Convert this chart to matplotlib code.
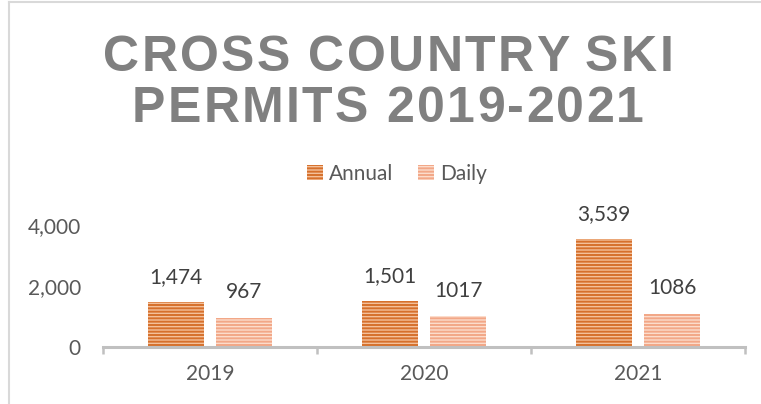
import matplotlib
matplotlib.use('Agg')
import matplotlib.pyplot as plt
import numpy as np
from matplotlib.lines import Line2D

# data
years = ['2019', '2020', '2021']
annual = [1474, 1501, 3539]
daily = [967, 1017, 1086]
yticks = [0, 2000, 4000]

W, H = 761, 404
plt.rcParams['font.family'] = ['Lato', 'DejaVu Sans']
plt.rcParams['hatch.linewidth'] = 1.4

fig = plt.figure(figsize=(W / 100, H / 100), dpi=100)
ax = fig.add_axes([103 / W, 1 - 347 / H, (745 - 103) / W, (347 - 225) / H])

x = np.arange(len(years))
off, bw = 0.159, 0.262
b1 = ax.bar(x - off, annual, bw, color='#f4c09a', edgecolor='#d6702c',
            linewidth=0, hatch='-----', label='Annual')
b2 = ax.bar(x + off, daily, bw, color='#fcdccb', edgecolor='#f2a787',
            linewidth=0, hatch='-----', label='Daily')

for xi, v in zip(x - off, annual):
    ax.annotate(f'{v:,}', (xi, v), xytext=(0, 14), textcoords='offset points',
                ha='center', va='baseline', fontsize=15, color='#404040',
                annotation_clip=False)
for xi, v in zip(x + off, daily):
    ax.annotate(str(v), (xi, v), xytext=(0, 14), textcoords='offset points',
                ha='center', va='baseline', fontsize=15, color='#404040',
                annotation_clip=False)

ax.set_xlim(-0.5, 2.5)
ax.set_ylim(0, 4000)
ax.set_xticks(x, years)
ax.set_xticks([-0.5, 0.5, 1.5, 2.5], minor=True)
ax.set_yticks(yticks, [f'{t:,}' for t in yticks])
ax.tick_params(axis='x', which='major', length=0, pad=12, labelsize=15,
               labelcolor='#595959')
ax.tick_params(axis='x', which='minor', length=5, width=1.8, color='#c0c0c0')
ax.tick_params(axis='y', length=0, pad=16, labelsize=15, labelcolor='#595959')
for s in ['top', 'right', 'left']:
    ax.spines[s].set_visible(False)
ax.spines['bottom'].set_color('#c0c0c0')
ax.spines['bottom'].set_linewidth(2.2)
ax.set_facecolor('none')

fig.legend(handles=[b1, b2], loc='center', bbox_to_anchor=(397 / W, 1 - 174 / H),
           ncol=2, frameon=False, fontsize=15, labelcolor='#595959',
           handlelength=0.75, handleheight=0.75, handletextpad=0.3,
           columnspacing=1.2)


def spaced_text(s, xc, yb, gap, **kw):
    r = fig.canvas.get_renderer()

    def w(t):
        tt = fig.text(0, 0, t, **kw)
        bb = tt.get_window_extent(r)
        tt.remove()
        return bb.width

    ref = w('I')
    adv = [w(s[:i] + 'I') - ref for i in range(len(s) + 1)]
    total = adv[-1] + gap * (len(s) - 1)
    x0 = xc - total / 2
    for i, ch in enumerate(s):
        if ch == ' ':
            continue
        fig.text((x0 + adv[i] + gap * i) / W, 1 - yb / H, ch,
                 ha='left', va='baseline', **kw)


tkw = dict(family='Liberation Sans', fontweight='bold', fontsize=36, color='#808080')
spaced_text('CROSS COUNTRY SKI', 388, 71, 2.3, **tkw)
spaced_text('PERMITS 2019-2021', 388, 122, 2.3, **tkw)

# chart frame remnants
fig.add_artist(Line2D([9 / W, 9 / W], [0, 1 - 2 / H], transform=fig.transFigure,
                      color='#d9d9d9', lw=1.5))
fig.add_artist(Line2D([9 / W, 1], [1 - 2 / H, 1 - 2 / H], transform=fig.transFigure,
                      color='#d9d9d9', lw=1.5))

fig.savefig('out.png', dpi=100)
